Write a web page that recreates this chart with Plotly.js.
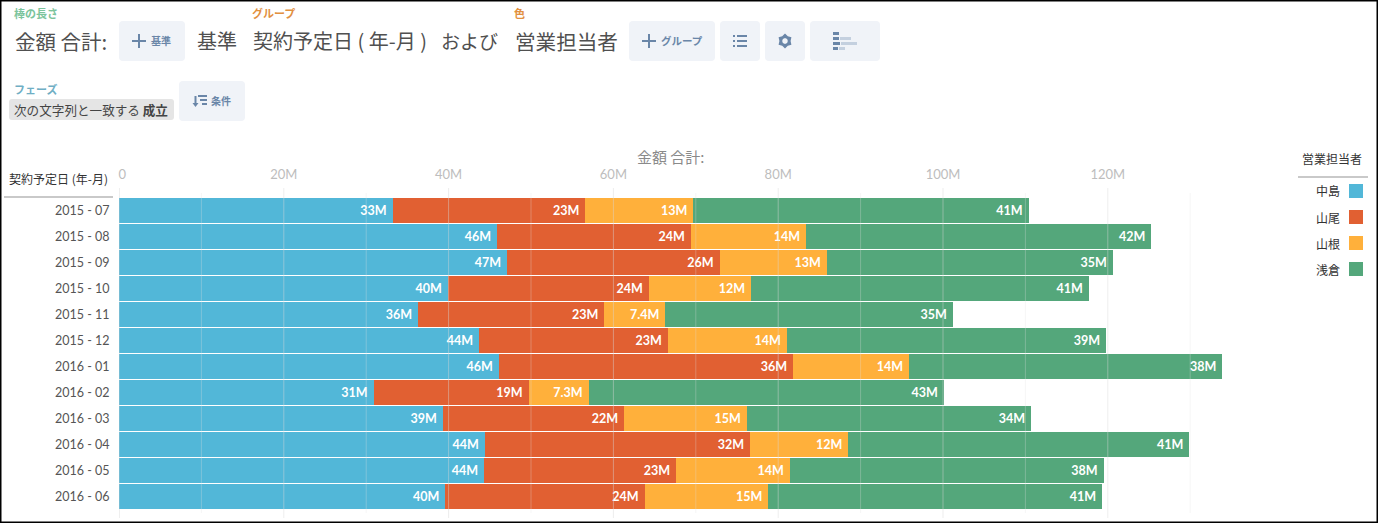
<!DOCTYPE html>
<html><head><meta charset="utf-8">
<script src="https://cdn.plot.ly/plotly-3.0.1.min.js"></script>
<style>html,body{margin:0;padding:0;background:#fff;overflow:hidden}#c{width:1378px;height:523px}</style>
</head><body><div id="c"></div>
<script>
const months = ["2015 - 07","2015 - 08","2015 - 09","2015 - 10","2015 - 11","2015 - 12","2016 - 01","2016 - 02","2016 - 03","2016 - 04","2016 - 05","2016 - 06"];
const seriesNames = ["中島","山尾","山根","浅倉"];
const nakajima = [33.2,45.9,47.1,39.9,36.3,43.7,46.1,30.9,39.3,44.4,44.3,39.6];
const yamao    = [23.4,23.5,25.8,24.4,22.6,22.9,35.7,18.8,22.0,32.2,23.3,24.2];
const yamane   = [13.1,14.0,13.0,12.4,7.4,14.45,14.1,7.3,14.9,11.9,13.8,15.0];
const asakura  = [40.7,41.9,34.7,41.0,34.9,38.75,38.0,43.1,34.5,41.4,38.1,40.5];
const nakajimaLabels = ["33M","46M","47M","40M","36M","44M","46M","31M","39M","44M","44M","40M"];
const yamaoLabels    = ["23M","24M","26M","24M","23M","23M","36M","19M","22M","32M","23M","24M"];
const yamaneLabels   = ["13M","14M","13M","12M","7.4M","14M","14M","7.3M","15M","12M","14M","15M"];
const asakuraLabels  = ["41M","42M","35M","41M","35M","39M","38M","43M","34M","41M","38M","41M"];
const colors = ["#52B7D8","#E16032","#FFB03B","#54A77B"];
const majorTicks = [0,20,40,60,80,100,120];
const majorLabels = ["\u00a0\u00a00","20M","40M","60M","80M","100M","120M"];
const minorTicks = [10,30,50,70,90,110,130];

const W=1378,H=523, L=119,R=1230,T=188,B=518;
const px=x=>(x-L)/(R-L), py=y=>(B-y)/(B-T);
const FONT='Lato, "Noto Sans CJK JP", sans-serif', CJK='"Noto Sans CJK JP", Lato, sans-serif';
const NBSP='\u00a0';

const allValues=[nakajima,yamao,yamane,asakura], allLabels=[nakajimaLabels,yamaoLabels,yamaneLabels,asakuraLabels];
const traces=seriesNames.map((n,i)=>({
  type:'bar',orientation:'h',name:n,x:allValues[i],y:months,
  marker:{color:colors[i],line:{width:0}},
  text:allLabels[i].map(t=>t+NBSP),textposition:'inside',insidetextanchor:'end',
  textangle:0,constraintext:'none',cliponaxis:false,
  insidetextfont:{family:FONT,size:12.5,color:'#fff',weight:700},hoverinfo:'skip'
}));

const shapes=[],ann=[];
const rect=(x0,y0,x1,y1,fill,r)=>{
  if(!r){shapes.push({type:'rect',xref:'paper',yref:'paper',x0:px(x0),x1:px(x1),y0:py(y1),y1:py(y0),fillcolor:fill,line:{width:0},layer:'above'});return;}
  const a=px,b=py;
  const d=`M${a(x0+r)},${b(y0)}L${a(x1-r)},${b(y0)}Q${a(x1)},${b(y0)} ${a(x1)},${b(y0+r)}L${a(x1)},${b(y1-r)}Q${a(x1)},${b(y1)} ${a(x1-r)},${b(y1)}L${a(x0+r)},${b(y1)}Q${a(x0)},${b(y1)} ${a(x0)},${b(y1-r)}L${a(x0)},${b(y0+r)}Q${a(x0)},${b(y0)} ${a(x0+r)},${b(y0)}Z`;
  shapes.push({type:'path',xref:'paper',yref:'paper',path:d,fillcolor:fill,line:{width:0},layer:'above'});
};
const txt=(x,y,text,size,color,anchor,fam)=>ann.push({xref:'paper',yref:'paper',x:px(x),y:py(y),text,showarrow:false,xanchor:anchor||'left',yanchor:'middle',borderpad:0,borderwidth:0,
  font:{family:fam||CJK,size,color}});

// gridlines drawn over the bars
majorTicks.forEach(v=>shapes.push({type:'line',xref:'x',yref:'paper',x0:v,x1:v,y0:0,y1:1,line:{color:v===0?'rgba(205,205,205,0.6)':'rgba(215,215,215,0.45)',width:1},layer:'above'}));
minorTicks.forEach(v=>shapes.push({type:'line',xref:'x',yref:'paper',x0:v,x1:v,y0:py(513),y1:py(193),line:{color:'rgba(225,225,225,0.3)',width:1},layer:'above'}));

// header rules
rect(4,196,113,198,'#c9c9c9');
rect(1298,176,1368,178,'#c9c9c9');
txt(108,178,'契約予定日 (年-月)',12,'#333','right');
txt(1362,158,'営業担当者',12,'#333','right');
seriesNames.forEach((n,i)=>{
  txt(1340,191+26*i,n,12,'#333','right');
  rect(1349,184+26*i,1363,198+26*i,colors[i]);
});

// toolbar
const btn='#F0F3F8',ink='#6A86A8',big='#505050';
[[119,185,21,61],[629,715,21,61],[720,760,21,61],[765,805,21,61],[810,880,21,61],[179,245,81,121]].forEach(b=>rect(b[0],b[2],b[1],b[3],btn,4));
txt(14,13,'<b>棒の長さ</b>',11,'#7CC49C');
txt(252,13,'<b>グループ</b>',11,'#E2903F');
txt(514,13,'<b>色</b>',11,'#E2903F');
txt(15,41,'金額 合計:',20.5,big);
txt(197,41,'基準',20,big);
txt(253,41,'契約予定日 ( 年-月 )',20,big);
txt(441,41,'および',19,big);
txt(515,41,'営業担当者',20.6,big);
const plus=(cx,cy)=>{rect(cx-7,cy-1,cx+7,cy+1,ink);rect(cx-1,cy-7,cx+1,cy+7,ink);};
plus(139,41); txt(151,41,'<b>基準</b>',10,ink);
plus(649,41); txt(661,41,'<b>グループ</b>',10.5,ink);
// list icon
[35,40,45].forEach(y=>{rect(733,y,735,y+2,ink);rect(737,y,747,y+2,ink);});
// gear icon: toothed outline with a round hole
(function(){
  const cx=785,cy=41;let d='';
  const n=12;
  for(let i=0;i<n;i++){
    const a=Math.PI*2*i/n-Math.PI/2, r=i%2===0?7.4:5.6;
    d+=(i?'L':'M')+px(cx+r*Math.cos(a))+','+py(cy+r*Math.sin(a));
  }
  d+='Z';
  for(let i=0;i<10;i++){
    const a=Math.PI*2*i/10;
    d+=(i?'L':'M')+px(cx+2.8*Math.cos(a))+','+py(cy+2.8*Math.sin(a));
  }
  d+='Z';
  shapes.push({type:'path',xref:'paper',yref:'paper',layer:'above',fillcolor:ink,line:{width:0},path:d});
})();
// mini chart icon
[[32,839,839],[37,839,851],[42,840,857],[47,838,845]].forEach(r=>{
  rect(833,r[0],r[1],r[0]+3,ink);
  if(r[2]>r[1]) rect(r[1]+1,r[0],r[2],r[0]+3,'#C4D0DF');
});
// filter row
txt(14,89,'<b>フェーズ</b>',11,'#6FAEC4');
rect(9,99,174,120,'#E5E5E5',3);
txt(14,109.5,'次の文字列と一致する <b>成立</b>',12.6,'#444');
rect(198,95,207,97,ink); rect(200,99,207,101,ink); rect(202,103,207,105,ink);
rect(194.5,96,196.5,104,ink);
shapes.push({type:'path',xref:'paper',yref:'paper',layer:'above',fillcolor:ink,line:{width:0},
  path:`M${px(192.5)},${py(103)}L${px(198.5)},${py(103)}L${px(195.5)},${py(107)}Z`});
txt(211,101,'<b>条件</b>',10,ink);
// axis title
txt(671,157,'金額 合計:',15,'#8a8a8a','center');
// outer frame
shapes.push({type:'rect',xref:'paper',yref:'paper',x0:px(0),x1:px(W),y0:py(H),y1:py(0),line:{color:'#000',width:3},fillcolor:'rgba(0,0,0,0)',layer:'above'});

const layout={
  width:W,height:H,margin:{l:L,r:W-R,t:T,b:H-B,pad:0},
  paper_bgcolor:'#fff',plot_bgcolor:'#fff',barmode:'stack',bargap:0.04,showlegend:false,
  xaxis:{side:'top',range:[0,(R-L)/8.24],tickvals:majorTicks,ticktext:majorLabels,tickmode:'array',
    showgrid:false,zeroline:false,showline:false,ticks:'outside',ticklen:3,tickcolor:'rgba(0,0,0,0)',
    tickfont:{family:FONT,size:13,color:'#BDBDBD'},automargin:false},
  yaxis:{type:'category',categoryorder:'array',categoryarray:months,range:[11.827,-0.865],
    showgrid:false,zeroline:false,showline:false,ticks:'outside',ticklen:6,tickcolor:'rgba(0,0,0,0)',
    tickfont:{family:FONT,size:12.5,color:'#555'},automargin:false},
  shapes,annotations:ann
};
Plotly.newPlot('c',traces,layout,{displayModeBar:false,responsive:false});
</script></body></html>
